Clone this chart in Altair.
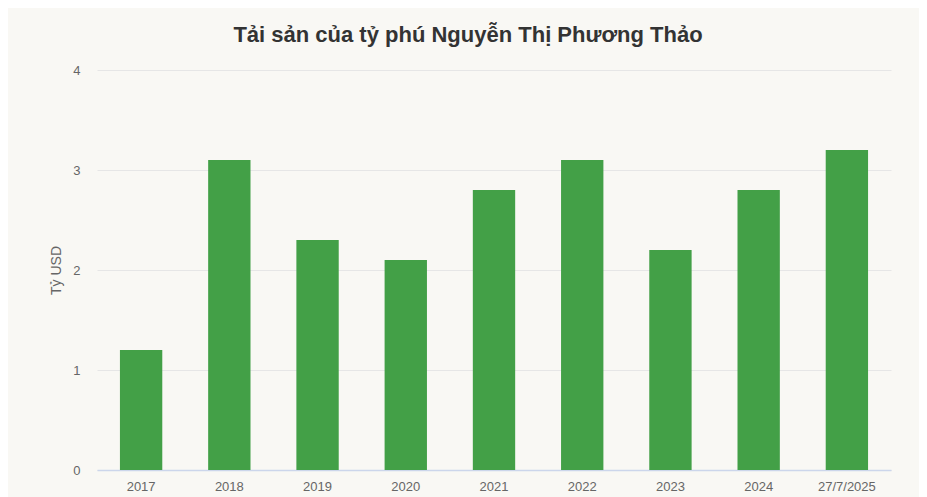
import altair as alt
import pandas as pd

years = ["2017", "2018", "2019", "2020", "2021", "2022", "2023", "2024", "27/7/2025"]
values = [1.2, 3.1, 2.3, 2.1, 2.8, 3.1, 2.2, 2.8, 3.2]

df = pd.DataFrame({"year": years, "value": values})

FONT = "Liberation Sans"

chart = alt.Chart(df).mark_bar(color="#43a047").encode(
    x=alt.X("year:N", sort=years, title=None,
            scale=alt.Scale(paddingInner=0.52, paddingOuter=0.26),
            axis=alt.Axis(labelAngle=0, labelColor="#666666", labelFontSize=13,
                          labelFont=FONT, ticks=False, domainColor="#ccd6eb",
                          domainWidth=1.5, labelPadding=10, grid=False)),
    y=alt.Y("value:Q", title="Tỷ USD",
            scale=alt.Scale(domain=[0, 4]),
            axis=alt.Axis(values=[0, 1, 2, 3, 4], labelColor="#666666", labelFontSize=13,
                          labelFont=FONT, ticks=False, domain=False, gridColor="#e6e6e6",
                          labelPadding=17, titleColor="#666666", titleFont=FONT,
                          titleFontSize=14, titleFontWeight="normal", titlePadding=9)),
).properties(
    width=794,
    height=400,
    title=alt.TitleParams("Tải sản của tỷ phú Nguyễn Thị Phương Thảo", font=FONT,
                          fontSize=22, fontWeight="bold", color="#333333",
                          anchor="middle", dx=-26, offset=17),
    background="#f9f8f4",
    autosize=alt.AutoSizeParams(type="none"),
    padding={"left": 89, "top": 62, "right": 28, "bottom": 27},
).configure_view(stroke=None)

chart.save("out.html", embed_options={"renderer": "svg", "actions": False})
